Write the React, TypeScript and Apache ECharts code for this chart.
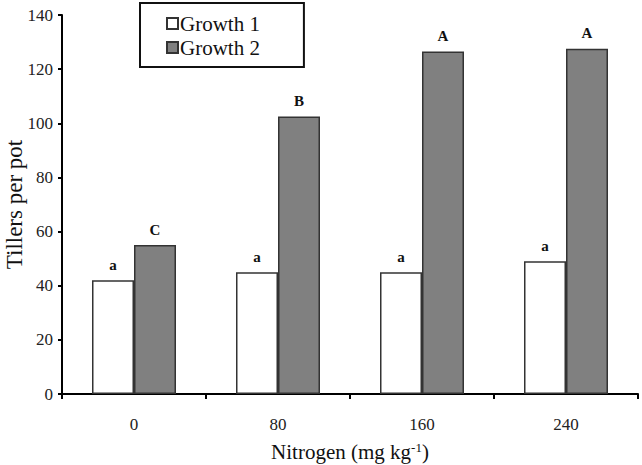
import React, { useEffect, useRef } from "react";
import * as echarts from "echarts";

// Nitrogen application rates (mg kg-1)
const nitrogenLevels = ["0", "80", "160", "240"];
// Tillers per pot for each growth period
const growth1 = [42, 45, 45, 49];
const growth2 = [55, 102.5, 126.5, 127.5];
// Mean separation letters shown above the bars
const growth1Letters = ["a", "a", "a", "a"];
const growth2Letters = ["C", "B", "A", "A"];

const SERIF = "Liberation Serif";

export default function App() {
  const ref = useRef<HTMLDivElement>(null);

  useEffect(() => {
    if (!ref.current) return;
    const chart = echarts.init(ref.current, null, { renderer: "svg" });

    const letterLabel = (letters: string[]) => ({
      show: true,
      position: "top",
      distance: 8,
      formatter: (p: any) => letters[p.dataIndex],
      fontFamily: SERIF,
      fontWeight: "bold",
      fontSize: 15,
      color: "#111",
    });

    chart.setOption({
      animation: false,
      backgroundColor: "#fff",
      textStyle: { fontFamily: SERIF },
      grid: {
        left: 62,
        right: 4,
        top: 15,
        bottom: 71,
        containLabel: false,
        outerBoundsMode: "none",
      },
      legend: {
        orient: "vertical",
        left: 140,
        top: 3,
        itemWidth: 11,
        itemHeight: 11,
        itemGap: 3,
        padding: [10, 44, 9, 26],
        borderColor: "#111",
        borderWidth: 2,
        icon: "rect",
        textStyle: { fontFamily: SERIF, fontSize: 21, color: "#111", padding: [0, 0, 0, -3] },
        data: ["Growth 1", "Growth 2"],
      },
      xAxis: {
        type: "category",
        data: nitrogenLevels,
        boundaryGap: true,
        name: "{t|Nitrogen (mg kg}{s|-1}{t|)}",
        nameLocation: "middle",
        nameGap: 47,
        nameMoveOverlap: false,
        nameTextStyle: {
          rich: {
            t: { fontFamily: SERIF, fontSize: 21, color: "#111" },
            s: { fontFamily: SERIF, fontSize: 13, color: "#111", verticalAlign: "top", padding: [0, 0, 9, 0] },
          },
        },
        axisLine: { show: true, lineStyle: { color: "#000", width: 2 } },
        axisTick: { show: true, alignWithLabel: false, length: 5, lineStyle: { color: "#000", width: 2 } },
        axisLabel: { margin: 22, fontFamily: SERIF, fontSize: 17, color: "#222" },
        splitLine: { show: false },
      },
      yAxis: {
        type: "value",
        min: 0,
        max: 140,
        interval: 20,
        name: "Tillers per pot",
        nameLocation: "middle",
        nameGap: 36,
        nameMoveOverlap: false,
        nameTextStyle: { fontFamily: SERIF, fontSize: 23, color: "#111" },
        axisLine: { show: true, lineStyle: { color: "#000", width: 2 } },
        axisTick: { show: true, length: 4, lineStyle: { color: "#000", width: 2 } },
        axisLabel: { margin: 9, fontFamily: SERIF, fontSize: 17, color: "#222" },
        splitLine: { show: false },
      },
      series: [
        {
          name: "Growth 1",
          type: "bar",
          data: growth1,
          barWidth: 42,
          barGap: "0%",
          itemStyle: { color: "#ffffff", borderColor: "#333", borderWidth: 1.5 },
          label: letterLabel(growth1Letters),
        },
        {
          name: "Growth 2",
          type: "bar",
          data: growth2,
          barWidth: 42,
          barGap: "0%",
          itemStyle: { color: "#808080", borderColor: "#333", borderWidth: 1.5 },
          label: letterLabel(growth2Letters),
        },
      ],
    });

    return () => chart.dispose();
  }, []);

  return (
    <div
      ref={ref}
      style={{ position: "fixed", left: 0, top: 0, width: 642, height: 465, background: "#fff" }}
    />
  );
}
